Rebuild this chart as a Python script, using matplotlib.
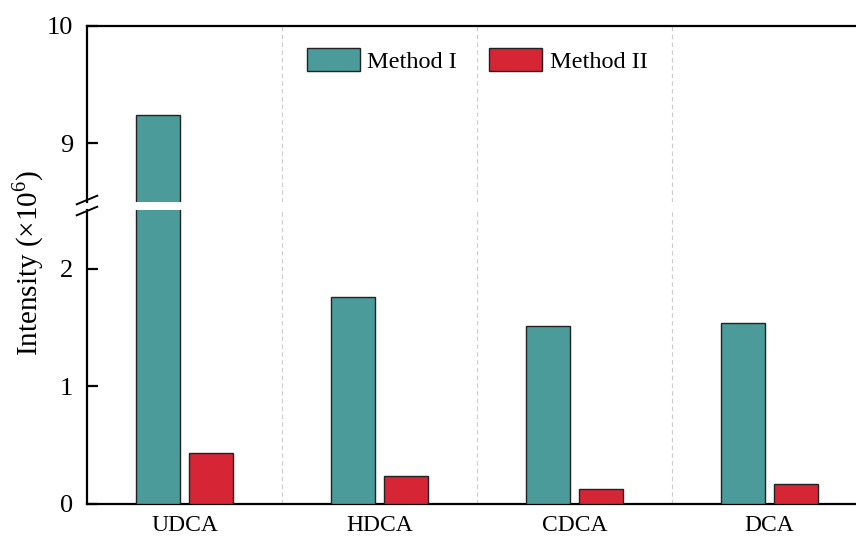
import matplotlib.pyplot as plt
import numpy as np

plt.rcParams["font.family"] = ["Liberation Serif", "DejaVu Serif"]
plt.rcParams["mathtext.fontset"] = "custom"
plt.rcParams["mathtext.rm"] = "Liberation Serif"

categories = ["UDCA", "HDCA", "CDCA", "DCA"]
method_1 = [9.24, 1.76, 1.515, 1.54]
method_2 = [0.437, 0.238, 0.13, 0.168]
series_names = ["Method I", "Method II"]

TEAL = "#4b9b9b"
RED = "#d62535"
EDGE = "#222222"
BAR_W = 0.225
OFFSET = 0.138

fig = plt.figure(figsize=(8.56, 5.36), dpi=100)
left, right = 87 / 856, 867 / 856
ax_top = fig.add_axes([left, 1 - 202 / 536, right - left, 176 / 536])
ax_bot = fig.add_axes([left, 32 / 536, right - left, 294 / 536])

x = np.arange(len(categories))
for ax in (ax_top, ax_bot):
    ax.bar(x - OFFSET, method_1, BAR_W, color=TEAL, edgecolor=EDGE, linewidth=1.0,
           label=series_names[0], zorder=3)
    ax.bar(x + OFFSET, method_2, BAR_W, color=RED, edgecolor=EDGE, linewidth=1.0,
           label=series_names[1], zorder=3)
    for sep in x[:-1] + 0.5:
        ax.axvline(sep, color="#cccccc", linestyle=(0, (4, 3)), linewidth=0.8, zorder=1)
    ax.set_xlim(-0.5, len(categories) - 0.5)
    for side in ("left", "bottom", "top", "right"):
        ax.spines[side].set_linewidth(1.6)
    ax.tick_params(axis="y", direction="in", length=8, width=1.6, labelsize=19, pad=10)

ax_top.set_ylim(8.5, 10)
ax_top.set_yticks([9, 10])
ax_top.spines["bottom"].set_visible(False)
ax_top.tick_params(axis="x", bottom=False, labelbottom=False)

ax_bot.set_ylim(0, 2.5)
ax_bot.set_yticks([0, 1, 2])
ax_bot.spines["top"].set_visible(False)
ax_bot.set_xticks(x)
ax_bot.set_xticklabels(categories)
ax_bot.tick_params(axis="x", length=0, labelsize=17, pad=8)

# break marks on the left spine
d = 0.012
kw = dict(color="black", linewidth=1.4, clip_on=False, transform=fig.transFigure)
for yb in (1 - 200 / 536, 1 - 211 / 536):
    fig.add_artist(plt.Line2D([left - d, left + d], [yb - 0.008, yb + 0.008], **kw))

ax_top.legend(loc="upper center", ncol=2, frameon=False, fontsize=17.5,
              handlelength=2.2, handleheight=1.1, handletextpad=0.3,
              columnspacing=1.3, bbox_to_anchor=(0.5, 1.0), borderaxespad=0.5)

fig.text(28 / 856, 1 - 263 / 536, r"Intensity ($\times$10$^6$)", rotation=90,
         ha="center", va="center", fontsize=21)

fig.savefig("out.png", dpi=100)
